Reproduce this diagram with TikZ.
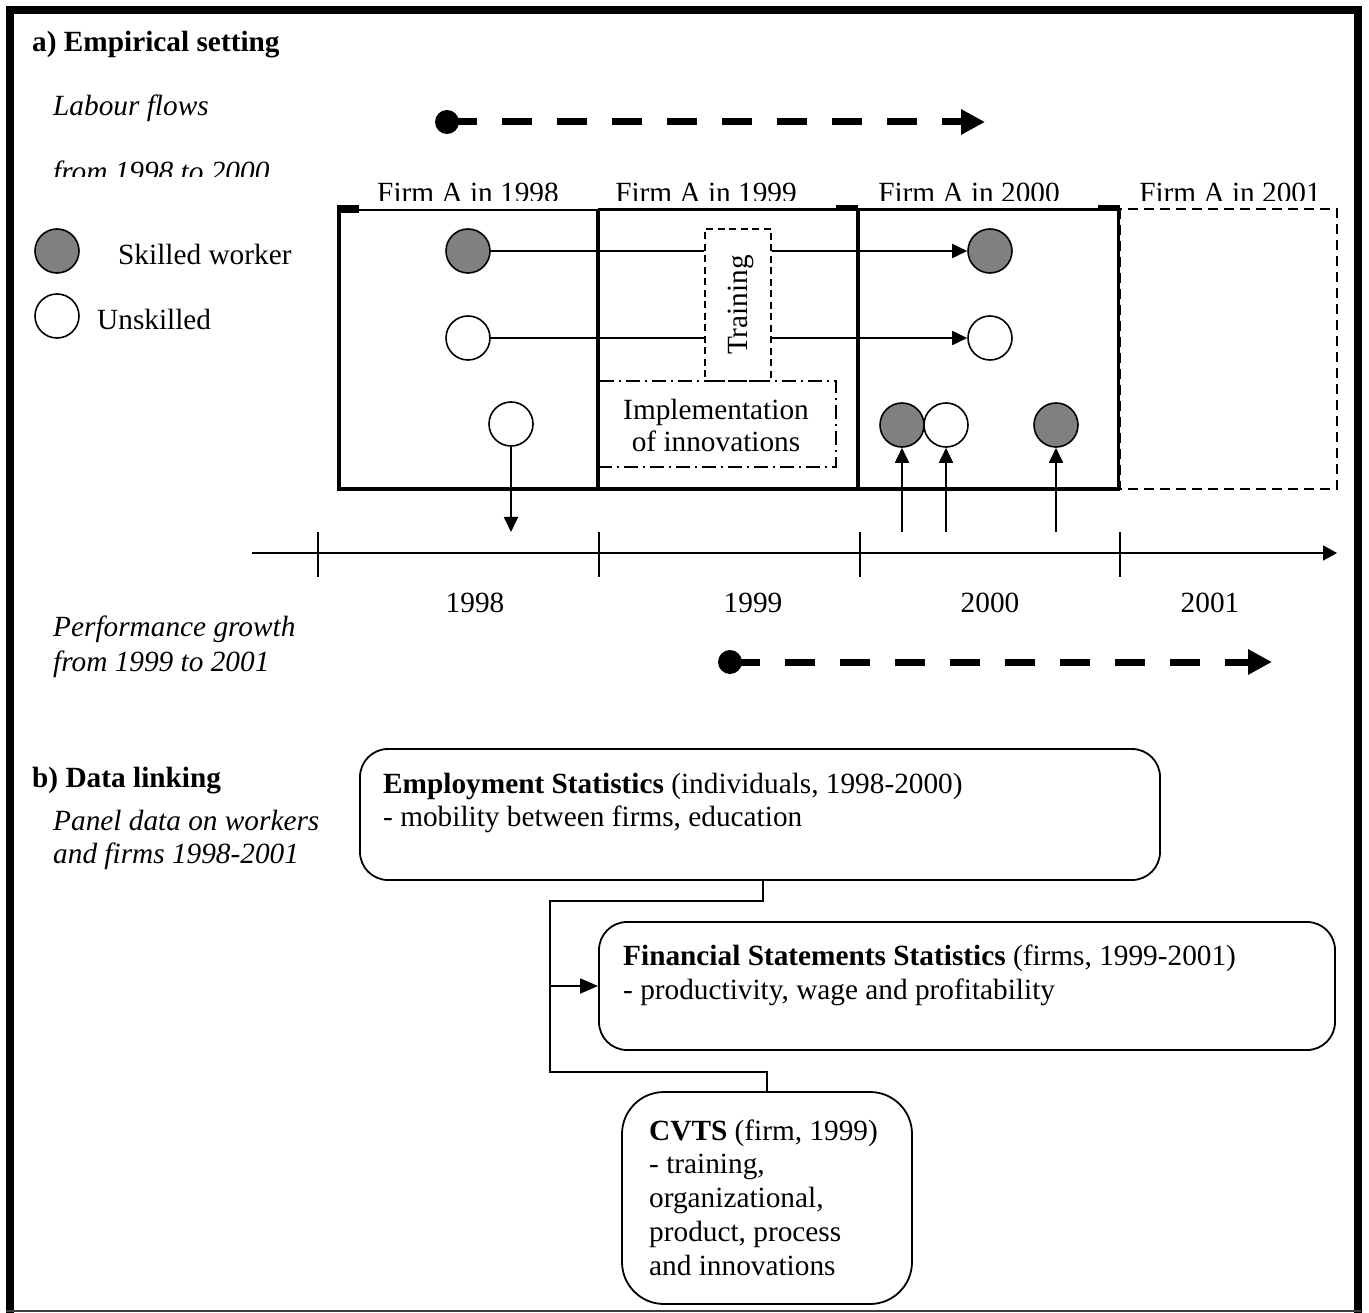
\documentclass[tikz,border=0pt]{standalone}
\usepackage{fontspec}
\setmainfont{Liberation Serif}
\usetikzlibrary{arrows.meta}
\newcommand\dfs{\fontsize{29.3pt}{34pt}\selectfont}
\begin{document}
\begin{tikzpicture}[x=1pt,y=-1pt,
  txt/.style={inner sep=0pt,font=\dfs},
  wk/.style={circle,draw,line width=1.6pt,minimum size=44pt,inner sep=0pt},
  gw/.style={wk,fill=gray},
  ww/.style={wk,fill=white},
  ln/.style={line width=1.8pt},
  arr/.style={ln,-{Triangle[length=15pt,width=14pt]}},
  bigdash/.style={line width=7pt,dash pattern=on 30pt off 25pt,-{Triangle[length=24pt,width=24pt]}},
  dotnode/.style={circle,fill,inner sep=0pt,minimum size=24pt},
  rbox/.style={draw,line width=1.8pt,inner sep=0pt},
]
\useasboundingbox (0,0) rectangle (1369,1313);
\fill[white] (0,0) rectangle (1369,1313);

% outer frame
\draw[line width=8pt,line join=miter] (10,1313) -- (10,10.5) -- (1357.5,10.5) -- (1357.5,1313);
\draw[line width=2pt,black!75] (6,1311) -- (1361,1311);

% left texts
\node[txt,anchor=base west,font=\dfs\bfseries] (ta) at (32,52) {a) Empirical setting};
\node[txt,anchor=base west,font=\dfs\itshape] (lf1) at (53,116) {Labour flows};
\begin{scope}
\clip (40,140) rectangle (330,177);
\node[txt,anchor=base west,font=\dfs\itshape] (lf2) at (53,182) {from 1998 to 2000};
\end{scope}

% legend
\node[gw] (lg) at (57,251) {};
\node[ww] (lw) at (57,316) {};
\node[txt,anchor=base west] (lgt) at (118,265) {Skilled worker};
\node[txt,anchor=base west] (lwt) at (97,330) {Unskilled};

% top dashed arrow
\node[dotnode] (da) at (447,122) {};
\coordinate (dae) at (985,122);
\draw[bigdash] (da.center) -- (dae);

% firm boxes
\draw[line width=4.5pt] (339,209) -- (339,489) -- (1120,489);
\draw[line width=4pt] (598,209) -- (598,489);
\draw[line width=4pt] (858,209) -- (858,489);
\draw[line width=3pt] (1118,209) -- (1118,489);
\draw[line width=2.5pt] (339,210) -- (598,210);
\draw[line width=3.5pt] (598,209.5) -- (1118,209.5);
\fill (337,205) rectangle (359,213);
\fill (836,205) rectangle (858,211);
\fill (1098,205) rectangle (1120,211);
\draw[line width=2pt,dash pattern=on 10pt off 6pt] (1120,209) rectangle (1337,489);

\begin{scope}
\clip (300,150) rectangle (1345,200.5);
\node[txt,anchor=base] (f98) at (468,203) {Firm A in 1998};
\node[txt,anchor=base] (f99) at (706,203) {Firm A in 1999};
\node[txt,anchor=base] (f00) at (969,203) {Firm A in 2000};
\node[txt,anchor=base] (f01) at (1230,203) {Firm A in 2001};
\end{scope}

% training and implementation
\node[draw,line width=1.8pt,dash pattern=on 7pt off 4.5pt,minimum width=66pt,minimum height=152pt,inner sep=0pt] (tr) at (738,305) {};
\node[txt] (trt) at (741,305) {\rotatebox{90}{Training}};
\node[draw,line width=1.8pt,dash pattern=on 14pt off 5pt on 2pt off 5pt,minimum width=238pt,minimum height=86pt,inner sep=0pt] (im) at (717,424) {};
\node[txt,anchor=base] (im1) at (716,420) {Implementation};
\node[txt,anchor=base] (im2) at (716,452) {of innovations};

% workers
\node[gw] (s98) at (468,251) {};
\node[ww] (u98) at (468,338) {};
\node[ww] (x98) at (511,424) {};
\node[gw] (s00) at (990,251) {};
\node[ww] (u00) at (990,338) {};
\node[gw] (a00) at (902,425) {};
\node[ww] (b00) at (946,425) {};
\node[gw] (c00) at (1056,425) {};

\draw[ln] (s98) -- (s98 -| tr.west);
\draw[arr] (s98 -| tr.east) -- (s00);
\draw[ln] (u98) -- (u98 -| tr.west);
\draw[arr] (u98 -| tr.east) -- (u00);

\coordinate (xo) at (511,532);
\coordinate (ai) at (902,532);
\coordinate (bi) at (946,532);
\coordinate (ci) at (1056,532);
\draw[arr] (x98) -- (xo);
\draw[arr] (ai) -- (a00);
\draw[arr] (bi) -- (b00);
\draw[arr] (ci) -- (c00);

% timeline
\coordinate (t0) at (252,553);
\coordinate (t1) at (1337,553);
\draw[ln,-{Triangle[length=14pt,width=15pt]}] (t0) -- (t1);
\foreach \x in {318,599,860,1120} \draw[line width=1.5pt] (\x,532) -- (\x,577);
\node[txt,anchor=base] (y98) at (475,612) {1998};
\node[txt,anchor=base] (y99) at (753,612) {1999};
\node[txt,anchor=base] (y00) at (990,612) {2000};
\node[txt,anchor=base] (y01) at (1210,612) {2001};

\node[txt,anchor=base west,font=\dfs\itshape] (pg1) at (53,636) {Performance growth};
\node[txt,anchor=base west,font=\dfs\itshape] (pg2) at (53,671) {from 1999 to 2001};

% bottom dashed arrow
\node[dotnode] (db) at (730,662) {};
\coordinate (dbe) at (1272,662);
\draw[bigdash] (db.center) -- (dbe);

% part b
\node[txt,anchor=base west,font=\dfs\bfseries] (tb) at (32,787) {b) Data linking};
\node[txt,anchor=base west,font=\dfs\itshape] (pd1) at (53,830) {Panel data on workers};
\node[txt,anchor=base west,font=\dfs\itshape] (pd2) at (53,863) {and firms 1998-2001};

\node[rbox,rounded corners=28pt,minimum width=800pt,minimum height=131pt] (emp) at (760,814.5) {};
\node[txt,anchor=base west] (e1) at (383,793) {\textbf{Employment Statistics} (individuals, 1998-2000)};
\node[txt,anchor=base west] (e2) at (383,826) {- mobility between firms, education};

\node[rbox,rounded corners=28pt,minimum width=736pt,minimum height=128pt] (fin) at (967,986) {};
\node[txt,anchor=base west] (fi1) at (623,965) {\textbf{Financial Statements Statistics} (firms, 1999-2001)};
\node[txt,anchor=base west] (fi2) at (623,999) {- productivity, wage and profitability};

\node[rbox,rounded corners=42pt,minimum width=290pt,minimum height=212pt] (cv) at (767,1198) {};
\node[txt,anchor=base west] (c1) at (649,1140) {\textbf{CVTS} (firm, 1999)};
\node[txt,anchor=base west] (c2) at (649,1173) {- training,};
\node[txt,anchor=base west] (c3) at (649,1207) {organizational,};
\node[txt,anchor=base west] (c4) at (649,1241) {product, process};
\node[txt,anchor=base west] (c5) at (649,1275) {and innovations};

\coordinate (j1) at (550,901);
\coordinate (j2) at (550,1072);
\draw[ln] ([xshift=3pt]emp.south) |- (j1) -- (j2) -| (cv.north);
\draw[ln,-{Triangle[length=18pt,width=15pt]}] (j1 |- fin.west) -- (fin.west);
\end{tikzpicture}
\end{document}
